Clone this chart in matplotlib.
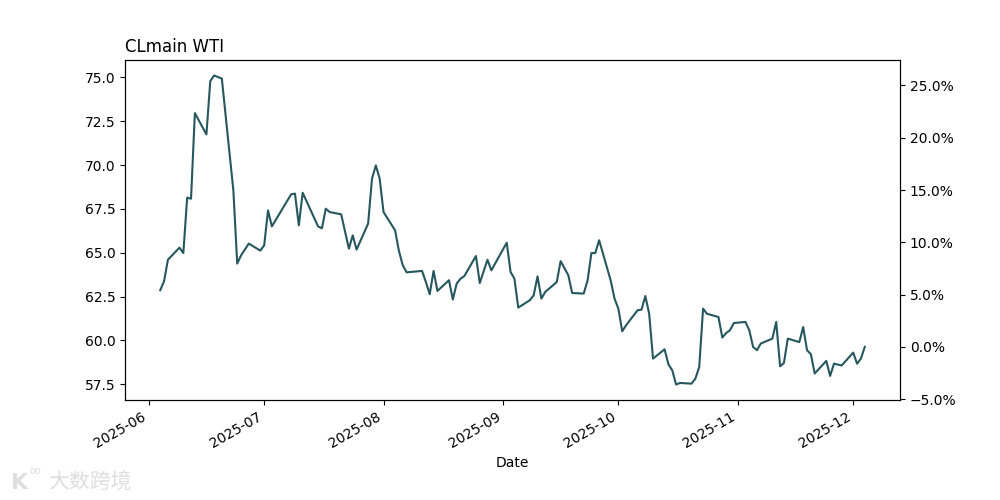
import matplotlib
matplotlib.use('Agg')
import matplotlib.pyplot as plt
import matplotlib.ticker as mticker
import pandas as pd

# CLmain WTI daily close
dates = [
    '2025-06-04', '2025-06-05', '2025-06-06', '2025-06-09', '2025-06-10', '2025-06-11',
    '2025-06-12', '2025-06-13', '2025-06-16', '2025-06-17', '2025-06-18', '2025-06-20',
    '2025-06-23', '2025-06-24', '2025-06-25', '2025-06-27', '2025-06-30', '2025-07-01',
    '2025-07-02', '2025-07-03', '2025-07-08', '2025-07-09', '2025-07-10', '2025-07-11',
    '2025-07-15', '2025-07-16', '2025-07-17', '2025-07-18', '2025-07-21', '2025-07-23',
    '2025-07-24', '2025-07-25', '2025-07-28', '2025-07-29', '2025-07-30', '2025-07-31',
    '2025-08-01', '2025-08-04', '2025-08-05', '2025-08-06', '2025-08-07', '2025-08-11',
    '2025-08-12', '2025-08-13', '2025-08-14', '2025-08-15', '2025-08-18', '2025-08-19',
    '2025-08-20', '2025-08-21', '2025-08-22', '2025-08-25', '2025-08-26', '2025-08-28',
    '2025-08-29', '2025-09-02', '2025-09-03', '2025-09-04', '2025-09-05', '2025-09-08',
    '2025-09-09', '2025-09-10', '2025-09-11', '2025-09-12', '2025-09-15', '2025-09-16',
    '2025-09-18', '2025-09-19', '2025-09-22', '2025-09-23', '2025-09-24', '2025-09-25',
    '2025-09-26', '2025-09-29', '2025-09-30', '2025-10-01', '2025-10-02', '2025-10-03',
    '2025-10-06', '2025-10-07', '2025-10-08', '2025-10-09', '2025-10-10', '2025-10-13',
    '2025-10-14', '2025-10-15', '2025-10-16', '2025-10-17', '2025-10-20', '2025-10-21',
    '2025-10-22', '2025-10-23', '2025-10-24', '2025-10-27', '2025-10-28', '2025-10-29',
    '2025-10-30', '2025-10-31', '2025-11-03', '2025-11-04', '2025-11-05', '2025-11-06',
    '2025-11-07', '2025-11-10', '2025-11-11', '2025-11-12', '2025-11-13', '2025-11-14',
    '2025-11-17', '2025-11-18', '2025-11-19', '2025-11-20', '2025-11-21', '2025-11-24',
    '2025-11-25', '2025-11-26', '2025-11-28', '2025-12-01', '2025-12-02', '2025-12-03',
    '2025-12-04',
]
closes = [
    62.86, 63.38, 64.60, 65.29, 64.98, 68.14,
    68.08, 72.96, 71.75, 74.79, 75.11, 74.93,
    68.55, 64.38, 64.85, 65.52, 65.12, 65.42,
    67.41, 66.50, 68.33, 68.37, 66.56, 68.42,
    66.50, 66.39, 67.51, 67.32, 67.19, 65.23,
    65.99, 65.18, 66.66, 69.22, 69.98, 69.22,
    67.32, 66.28, 65.10, 64.28, 63.88, 63.96,
    63.33, 62.63, 63.96, 62.82, 63.43, 62.33,
    63.24, 63.52, 63.67, 64.81, 63.27, 64.60,
    63.99, 65.57, 63.90, 63.52, 61.87, 62.29,
    62.57, 63.65, 62.38, 62.76, 63.33, 64.52,
    63.71, 62.70, 62.67, 63.42, 64.98, 64.98,
    65.71, 63.42, 62.38, 61.81, 60.52, 60.86,
    61.72, 61.75, 62.53, 61.52, 58.96, 59.49,
    58.63, 58.29, 57.48, 57.57, 57.53, 57.82,
    58.48, 61.81, 61.52, 61.33, 60.16, 60.42,
    60.58, 60.99, 61.05, 60.58, 59.62, 59.44,
    59.82, 60.10, 61.05, 58.52, 58.71, 60.10,
    59.90, 60.76, 59.44, 59.21, 58.11, 58.83,
    57.97, 58.67, 58.57, 59.30, 58.67, 58.96,
    59.63,
]

x = pd.to_datetime(dates)
base = closes[-1]  # right axis shows change vs latest close

fig, ax = plt.subplots(figsize=(10, 5), dpi=100)
ax.plot(x, closes, color='#26575f', linewidth=1.5)
ax.set_title('CLmain WTI', loc='left')
ax.set_xlabel('Date')

ax2 = ax.twinx()
lo, hi = ax.get_ylim()
ax2.set_ylim(lo / base - 1, hi / base - 1)
ax2.yaxis.set_major_formatter(mticker.PercentFormatter(xmax=1.0, decimals=1))

fig.autofmt_xdate()

# watermark
fig.text(0.011, 0.022, 'K', fontsize=16, color='#dedede', fontweight='bold')
fig.text(0.029, 0.052, 'oo', fontsize=7, color='#dedede')
fig.text(0.048, 0.022, '大数跨境', fontsize=15, color='#dedede',
         family=['Noto Sans CJK SC', 'DejaVu Sans'])

fig.savefig('out.png', dpi=100)
